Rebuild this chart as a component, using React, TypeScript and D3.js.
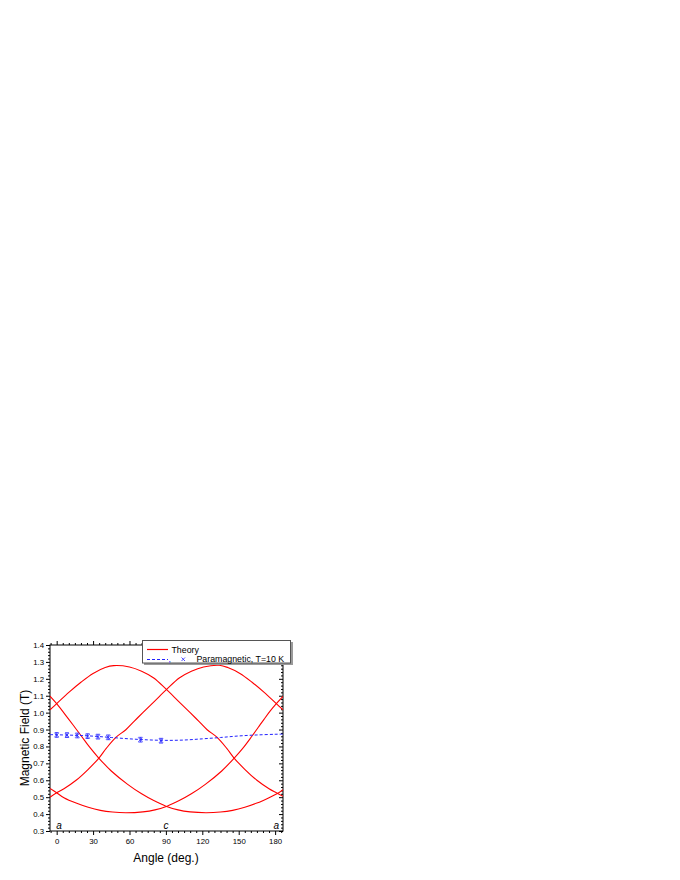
import React, { useEffect, useRef } from "react";
import * as d3 from "d3";

// theory curves, [angle, field]
const theoryA = [
  [-5.5, 1.017], [0, 1.053], [10, 1.12], [20, 1.18], [30, 1.232], [40, 1.267], [47, 1.278],
  [60, 1.27], [70, 1.245], [80, 1.205], [90, 1.14], [100, 1.07], [110, 1.0], [117, 0.95],
  [124, 0.899], [132, 0.855], [140, 0.79], [146, 0.733], [155, 0.665], [165, 0.6],
  [175, 0.55], [181, 0.526], [186.5, 0.505],
];
const theoryB = [
  [-5.5, 1.098], [0, 1.053], [10, 0.96], [20, 0.865], [27, 0.797], [34.5, 0.733], [45, 0.655],
  [58.5, 0.576], [70, 0.52], [80, 0.48], [90, 0.447], [100, 0.425], [110, 0.413], [123, 0.408],
  [135, 0.412], [145, 0.422], [155, 0.44], [165, 0.465], [175, 0.497], [183, 0.526], [186.5, 0.544],
];
const theoryC = [
  [-5.5, 0.5], [0, 0.526], [6, 0.55], [16, 0.6], [26, 0.665], [35, 0.733], [41, 0.79],
  [49, 0.855], [57, 0.899], [64, 0.95], [71, 1.0], [81, 1.07], [91, 1.14], [101, 1.205],
  [111, 1.245], [121, 1.27], [134, 1.28], [141, 1.267], [151, 1.232], [161, 1.18],
  [171, 1.12], [181, 1.053], [186.5, 1.017],
];
const theoryD = [
  [-5.5, 0.552], [0, 0.526], [6, 0.497], [16, 0.465], [26, 0.44], [36, 0.422], [46, 0.412],
  [57, 0.408], [71, 0.413], [81, 0.425], [91, 0.447], [101, 0.48], [111, 0.52], [122.5, 0.576],
  [136, 0.655], [146.5, 0.733], [154, 0.795], [161, 0.862], [166, 0.912], [171, 0.962],
  [176, 1.01], [181, 1.053], [186.5, 1.096],
];

// paramagnetic fit (dashed)
const paraFit = [
  [-5.5, 0.87], [0, 0.869], [15, 0.866], [30, 0.861], [45, 0.853], [60, 0.845], [75, 0.839],
  [90, 0.836], [105, 0.838], [120, 0.845], [135, 0.853], [150, 0.862], [165, 0.868],
  [180, 0.872], [186.5, 0.873],
];

// measured points, T = 10 K
const expAngles = [0, 8.5, 17, 25.5, 34, 42.5, 69, 86];
const expField = [0.868, 0.867, 0.865, 0.861, 0.858, 0.854, 0.84, 0.834];
const expErr = [0.014, 0.014, 0.014, 0.014, 0.014, 0.014, 0.014, 0.014];

const axisLabels = [
  { text: "a", angle: 2 },
  { text: "c", angle: 90 },
  { text: "a", angle: 181 },
];

const xMajor = [0, 30, 60, 90, 120, 150, 180];
const yMajor = [0.3, 0.4, 0.5, 0.6, 0.7, 0.8, 0.9, 1.0, 1.1, 1.2, 1.3, 1.4];

const RED = "#ff0000";
const BLUE = "#2222ff";
const FONT = "'Liberation Sans', Arial, sans-serif";

export default function App() {
  const ref = useRef<SVGSVGElement>(null);

  useEffect(() => {
    const svg = d3.select(ref.current);
    svg.selectAll("*").remove();

    const left = 50, right = 283, top = 645, bottom = 831;
    const x = d3.scaleLinear().domain([-5.5, 186.5]).range([left, right]);
    const y = d3.scaleLinear().domain([0.3, 1.4]).range([bottom, top]);

    const xMinor = d3.range(-5, 186, 5).filter((d) => d % 30 !== 0);
    const yMinor = d3.range(30, 141, 2).map((d) => d / 100).filter((d) => Math.round(d * 100) % 10 !== 0);

    const g = svg.append("g");

    const styleAxis = (sel) => {
      sel.select(".domain").remove();
      sel.selectAll(".tick line").attr("stroke", "#000").attr("stroke-width", 1);
      sel.selectAll(".tick text").style("font-family", FONT).style("font-size", "7.8px").attr("fill", "#000");
    };

    // bottom
    g.append("g").attr("transform", `translate(0,${bottom})`)
      .call(d3.axisBottom(x).tickValues(xMajor).tickSize(4).tickPadding(3).tickFormat(d3.format("d")))
      .call(styleAxis);
    g.append("g").attr("transform", `translate(0,${bottom})`)
      .call(d3.axisBottom(x).tickValues(xMinor).tickSize(2).tickFormat(() => ""))
      .call(styleAxis);
    // top
    g.append("g").attr("transform", `translate(0,${top})`)
      .call(d3.axisTop(x).tickValues(xMajor).tickSize(4).tickFormat(() => ""))
      .call(styleAxis);
    g.append("g").attr("transform", `translate(0,${top})`)
      .call(d3.axisTop(x).tickValues(xMinor).tickSize(2).tickFormat(() => ""))
      .call(styleAxis);
    // left
    g.append("g").attr("transform", `translate(${left},0)`)
      .call(d3.axisLeft(y).tickValues(yMajor).tickSize(4).tickPadding(2).tickFormat(d3.format(".1f")))
      .call(styleAxis);
    g.append("g").attr("transform", `translate(${left},0)`)
      .call(d3.axisLeft(y).tickValues(yMinor).tickSize(2).tickFormat(() => ""))
      .call(styleAxis);
    // right (inward)
    g.append("g").attr("transform", `translate(${right},0)`)
      .call(d3.axisLeft(y).tickValues(yMajor).tickSize(4).tickFormat(() => ""))
      .call(styleAxis);
    g.append("g").attr("transform", `translate(${right},0)`)
      .call(d3.axisLeft(y).tickValues(yMinor).tickSize(2).tickFormat(() => ""))
      .call(styleAxis);

    g.append("rect")
      .attr("x", left).attr("y", top)
      .attr("width", right - left).attr("height", bottom - top)
      .attr("fill", "none").attr("stroke", "#000").attr("stroke-width", 1);

    const plot = g.append("g");
    plot.append("clipPath").attr("id", "clip")
      .append("rect").attr("x", left).attr("y", top).attr("width", right - left).attr("height", bottom - top);

    const line = d3.line<number[]>()
      .x((d) => x(d[0]))
      .y((d) => y(d[1]))
      .curve(d3.curveCatmullRom);

    const curves = plot.append("g").attr("clip-path", "url(#clip)");
    [theoryA, theoryB, theoryC, theoryD].forEach((c) => {
      curves.append("path").attr("d", line(c)).attr("fill", "none")
        .attr("stroke", RED).attr("stroke-width", 1.1);
    });

    curves.append("path").attr("d", line(paraFit)).attr("fill", "none")
      .attr("stroke", BLUE).attr("stroke-width", 1).attr("stroke-dasharray", "3,2");

    // data markers with error bars
    const pts = expAngles.map((a, i) => ({ a, v: expField[i], e: expErr[i] }));
    const mk = curves.selectAll(".pt").data(pts).join("g").attr("class", "pt")
      .attr("transform", (d) => `translate(${x(d.a)},${y(d.v)})`);
    mk.append("line").attr("x1", 0).attr("x2", 0)
      .attr("y1", (d) => y(d.v + d.e) - y(d.v)).attr("y2", (d) => y(d.v - d.e) - y(d.v))
      .attr("stroke", BLUE).attr("stroke-width", 0.8);
    [-1, 1].forEach((s) => {
      mk.append("line").attr("x1", -2).attr("x2", 2)
        .attr("y1", (d) => y(d.v + s * d.e) - y(d.v)).attr("y2", (d) => y(d.v + s * d.e) - y(d.v))
        .attr("stroke", BLUE).attr("stroke-width", 0.8);
    });
    mk.append("path").attr("d", "M-2,-2L2,2M-2,2L2,-2")
      .attr("stroke", BLUE).attr("stroke-width", 0.8).attr("fill", "none");

    // a / c / a labels
    g.selectAll(".dir").data(axisLabels).join("text").attr("class", "dir")
      .attr("x", (d) => x(d.angle)).attr("y", bottom - 2)
      .attr("text-anchor", "middle")
      .style("font-family", FONT).style("font-size", "10px").style("font-style", "italic")
      .text((d) => d.text);

    // axis titles
    g.append("text").attr("x", (left + right) / 2 - 0.5).attr("y", 862)
      .attr("text-anchor", "middle").style("font-family", FONT).style("font-size", "12px")
      .text("Angle (deg.)");
    g.append("text").attr("transform", `translate(28.5,${(top + bottom) / 2}) rotate(-90)`)
      .attr("text-anchor", "middle").style("font-family", FONT).style("font-size", "12px")
      .text("Magnetic Field (T)");

    // legend
    const lg = g.append("g");
    lg.append("rect").attr("x", 144).attr("y", 642).attr("width", 149).attr("height", 23).attr("fill", "#9a9a9a");
    lg.append("rect").attr("x", 142.5).attr("y", 640.5).attr("width", 148).attr("height", 22.5)
      .attr("fill", "#fff").attr("stroke", "#555").attr("stroke-width", 1);
    lg.append("line").attr("x1", 147).attr("x2", 168).attr("y1", 649.5).attr("y2", 649.5)
      .attr("stroke", RED).attr("stroke-width", 1.2);
    lg.append("text").attr("x", 171.5).attr("y", 652.5)
      .style("font-family", FONT).style("font-size", "8.8px").text("Theory");
    lg.append("line").attr("x1", 147).attr("x2", 168).attr("y1", 659.5).attr("y2", 659.5)
      .attr("stroke", BLUE).attr("stroke-width", 1.2).attr("stroke-dasharray", "3,2");
    lg.append("text").attr("x", 168.5).attr("y", 661.5).attr("fill", BLUE)
      .style("font-family", FONT).style("font-size", "8.8px").text(",");
    lg.append("path").attr("d", "M181.5,657.5L185,661M181.5,661L185,657.5")
      .attr("stroke", BLUE).attr("stroke-width", 0.8);
    lg.append("text").attr("x", 196.5).attr("y", 662)
      .style("font-family", FONT).style("font-size", "8.8px").text("Paramagnetic, T=10 K");
  }, []);

  return (
    <svg
      ref={ref}
      width={680}
      height={880}
      style={{ position: "absolute", left: 0, top: 0, background: "#fff" }}
    />
  );
}
